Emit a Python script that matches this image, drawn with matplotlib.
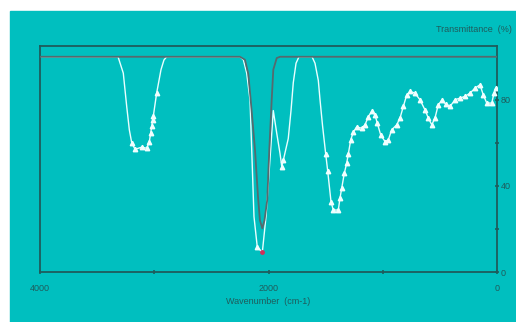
import matplotlib
matplotlib.use("Agg")
import matplotlib.pyplot as plt
from matplotlib.patches import Rectangle

# spectrum (white line), wavenumber cm-1 and transmittance %
spec_wn = [4000, 3317, 3271, 3241, 3218, 3197, 3168, 3110, 3066, 3043, 3031,
           3022, 3014, 3008, 2979, 2941, 2915, 2891, 2249, 2220, 2191, 2162,
           2147, 2127, 2098, 2054, 2022, 2002, 1981, 1958, 1928, 1899, 1884,
           1870, 1827, 1803, 1783, 1759, 1733, 1619, 1593, 1564, 1549, 1527,
           1499, 1482, 1453, 1433, 1389, 1374, 1359, 1336, 1315, 1301, 1280,
           1258, 1228, 1184, 1155, 1126, 1097, 1068, 1048, 1018, 980, 951,
           922, 878, 849, 820, 790, 761, 718, 674, 630, 601, 571, 543, 514,
           484, 449, 411, 368, 324, 280, 236, 193, 149, 120, 90, 46, 26, 11]
spec_t = [100, 100, 92.4, 76.9, 66, 60, 57, 58, 57.5, 60.6, 64.6,
          67.6, 70.7, 72.5, 83.1, 94, 98.5, 100, 100, 98.6, 92.4, 80,
          57, 25.7, 11.5, 9.2, 25.7, 41, 57, 75, 64.5, 55, 49,
          52, 62, 75, 88, 97, 100, 100, 97, 89, 80, 68,
          54.7, 47, 32.7, 28.8, 28.8, 34.4, 39, 46, 50.7, 55, 61.4,
          65, 67.4, 66.8, 68.4, 72.2, 74.6, 73, 69.2, 63.7, 60.6, 61.4,
          66, 68.4, 71.5, 76.9, 82.3, 83.9, 83.1, 80, 75.3, 71.5, 68.4, 71.5, 77.7,
          79.7, 78.1, 76.9, 80, 80.8, 81.6, 83.1, 85.4, 87, 82.3, 78.5, 78.5, 83.1, 85.4]

# measured points drawn with triangles
meas_wn = [3197, 3168, 3110, 3066, 3043, 3031, 3022, 3014, 3008, 2979, 2098,
           1884, 1870, 1499, 1482, 1453, 1433, 1389, 1374, 1359, 1336, 1315,
           1301, 1280, 1258, 1228, 1184, 1155, 1126, 1097, 1068, 1048, 1018,
           980, 951, 922, 878, 849, 820, 790, 761, 718, 674, 630, 601, 571,
           543, 514, 484, 449, 411, 368, 324, 280, 236, 193, 149, 120, 90, 46,
           26, 11]
meas_t = [60, 57, 58, 57.5, 60.6, 64.6, 67.6, 70.7, 72.5, 83.1, 11.5,
          49, 52, 54.7, 47, 32.7, 28.8, 28.8, 34.4, 39, 46, 50.7,
          55, 61.4, 65, 67.4, 66.8, 68.4, 72.2, 74.6, 73, 69.2, 63.7,
          60.6, 61.4, 66, 68.4, 71.5, 76.9, 82.3, 83.9, 83.1, 80, 75.3, 71.5, 68.4,
          71.5, 77.7, 79.7, 78.1, 76.9, 80, 80.8, 81.6, 83.1, 85.4, 87, 82.3, 78.5, 78.5,
          83.1, 85.4]

# reference band (gray line)
ref_wn = [4000, 2249, 2206, 2177, 2156, 2118, 2092, 2075, 2054, 2035, 2011,
          1993, 1972, 1958, 1928, 1899, 0]
ref_t = [100, 100, 98.6, 92, 80, 56.7, 35, 24, 20.3, 24, 33.5,
         56.7, 80, 94, 99.4, 100, 100]

peak_wn = [2054]
peak_t = [9.2]

teal = "#00bfbf"
dark = "#1f5c5c"

fig = plt.figure(figsize=(5.16, 3.22), dpi=100)
fig.patch.set_facecolor("white")
fig.patches.append(Rectangle((10 / 516, 0), 506 / 516, 311 / 322,
                             transform=fig.transFigure, color=teal, zorder=-10))

ax = fig.add_axes([40 / 516, 50 / 322, 457 / 516, 226 / 322])
ax.set_facecolor(teal)

ax.plot(spec_wn, spec_t, color="#e8ffff", lw=1.0, zorder=2)
ax.plot(meas_wn, meas_t, ls="none", marker="^", ms=3.2, color="#f0ffff",
        mec="#f0ffff", zorder=3)
ax.plot(ref_wn, ref_t, color="#556a6e", lw=1.3, zorder=4)
ax.plot(peak_wn, peak_t, ls="none", marker="o", ms=2.5, color="#d0305a", zorder=5)

ax.set_xlim(4000, 0)
ax.set_ylim(0, 105)

for s in ax.spines.values():
    s.set_color(dark)
    s.set_linewidth(1.3)

ax.set_xticks([4000, 2000, 0])
ax.set_xticks([3000, 1000], minor=True)
ax.set_yticks([0, 40, 80])
ax.set_yticks([20, 60], minor=True)
ax.yaxis.tick_right()
ax.tick_params(which="both", direction="inout", length=3, width=1.2,
               color=dark, labelcolor=dark, labelsize=6.5)
ax.tick_params(axis="x", which="both", pad=7)
ax.tick_params(axis="y", which="both", pad=1)
for lab in ax.get_xticklabels() + ax.get_yticklabels():
    lab.set_family("Liberation Sans")

fig.text(512 / 516, 1 - 30 / 322, "Transmittance  (%)", ha="right", va="center",
         fontsize=6.5, color=dark, family="Liberation Sans")
fig.text(268 / 516, 1 - 302 / 322, "Wavenumber  (cm-1)", ha="center", va="center",
         fontsize=6.5, color=dark, family="Liberation Sans")

fig.savefig("out.png", dpi=100, facecolor="white")
